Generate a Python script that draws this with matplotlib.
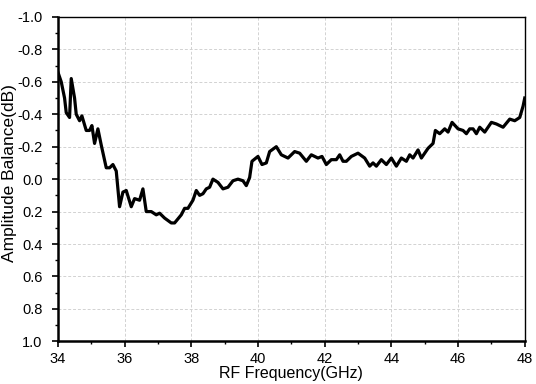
import matplotlib
matplotlib.use('Agg')
import matplotlib.pyplot as plt
from matplotlib.ticker import MultipleLocator

plt.rcParams['font.family'] = ['Liberation Sans', 'DejaVu Sans']

# values (GHz, dB)
freq = [34.0, 34.1, 34.2, 34.25, 34.35, 34.4, 34.5, 34.55, 34.65, 34.72,
        34.85, 34.95, 35.02, 35.1, 35.2, 35.3, 35.45, 35.55, 35.65, 35.75,
        35.85, 35.95, 36.05, 36.2, 36.3, 36.45, 36.55, 36.65, 36.8, 36.95,
        37.05, 37.2, 37.4, 37.5, 37.7, 37.8, 37.9, 38.05, 38.15, 38.25,
        38.35, 38.45, 38.55, 38.65, 38.8, 38.95, 39.1, 39.25, 39.4, 39.55,
        39.65, 39.75, 39.82, 40.0, 40.12, 40.25, 40.35, 40.55, 40.7, 40.9,
        41.1, 41.25, 41.45, 41.6, 41.8, 41.92, 42.05, 42.2, 42.35, 42.45,
        42.55, 42.65, 42.8, 43.0, 43.2, 43.35, 43.45, 43.55, 43.7, 43.85,
        44.0, 44.15, 44.3, 44.45, 44.55, 44.65, 44.8, 44.9, 45.1, 45.25,
        45.32, 45.45, 45.6, 45.7, 45.82, 46.0, 46.15, 46.25, 46.35, 46.45,
        46.55, 46.65, 46.8, 47.0, 47.15, 47.35, 47.55, 47.7, 47.85, 47.95,
        48.0]
balance = [-0.66, -0.60, -0.50, -0.41, -0.38, -0.62, -0.50, -0.40, -0.36, -0.39,
           -0.30, -0.30, -0.33, -0.22, -0.31, -0.21, -0.07, -0.07, -0.09, -0.05,
           0.17, 0.08, 0.07, 0.17, 0.12, 0.13, 0.06, 0.20, 0.20, 0.22,
           0.21, 0.24, 0.27, 0.27, 0.22, 0.18, 0.18, 0.13, 0.07, 0.10,
           0.09, 0.06, 0.05, 0.00, 0.02, 0.06, 0.05, 0.01, 0.00, 0.01,
           0.04, -0.01, -0.11, -0.14, -0.09, -0.10, -0.17, -0.20, -0.15, -0.13,
           -0.17, -0.16, -0.11, -0.15, -0.13, -0.14, -0.09, -0.12, -0.12, -0.15,
           -0.11, -0.11, -0.14, -0.16, -0.13, -0.08, -0.10, -0.08, -0.12, -0.09,
           -0.13, -0.08, -0.13, -0.11, -0.15, -0.13, -0.18, -0.13, -0.19, -0.22,
           -0.30, -0.28, -0.31, -0.29, -0.35, -0.31, -0.30, -0.28, -0.31, -0.31,
           -0.28, -0.32, -0.29, -0.35, -0.34, -0.32, -0.37, -0.36, -0.38, -0.45,
           -0.50]

xticks = [34, 36, 38, 40, 42, 44, 46, 48]
yticks = [-1.0, -0.8, -0.6, -0.4, -0.2, 0.0, 0.2, 0.4, 0.6, 0.8, 1.0]
ytick_labels = ['-1.0', '-0.8', '-0.6', '-0.4', '-0.2', '0.0',
                '0.2', '0.4', '0.6', '0.8', '1.0']

fig = plt.figure(figsize=(5.36, 3.84), dpi=100)
ax = fig.add_axes([0.108, 0.111, 0.871, 0.845])

ax.plot(freq, balance, color='black', linewidth=2.3, zorder=3)

ax.set_xlim(34, 48)
ax.set_ylim(1.0, -1.0)
ax.set_xticks(xticks)
ax.set_yticks(yticks)
ax.set_yticklabels(ytick_labels)
ax.xaxis.set_minor_locator(MultipleLocator(1))
ax.yaxis.set_minor_locator(MultipleLocator(0.1))

ax.grid(True, which='major', color='#d2d2d2', linestyle=(0, (3, 2)),
        linewidth=0.7)
ax.tick_params(which='major', direction='out', length=4, width=1.2,
               labelsize=10.5, pad=4)
ax.tick_params(axis='y', which='major', pad=7)
ax.tick_params(which='minor', direction='out', length=2.5, width=1.0)

for side in ['left', 'bottom']:
    ax.spines[side].set_linewidth(1.8)
for side in ['top', 'right']:
    ax.spines[side].set_linewidth(1.0)

ax.set_xlabel('RF Frequency(GHz)', fontsize=11.5, labelpad=0)
ax.set_ylabel('Amplitude Balance(dB)', fontsize=12.5)
ax.yaxis.set_label_coords(-0.088, 0.52)

fig.savefig('out.png', dpi=100)
